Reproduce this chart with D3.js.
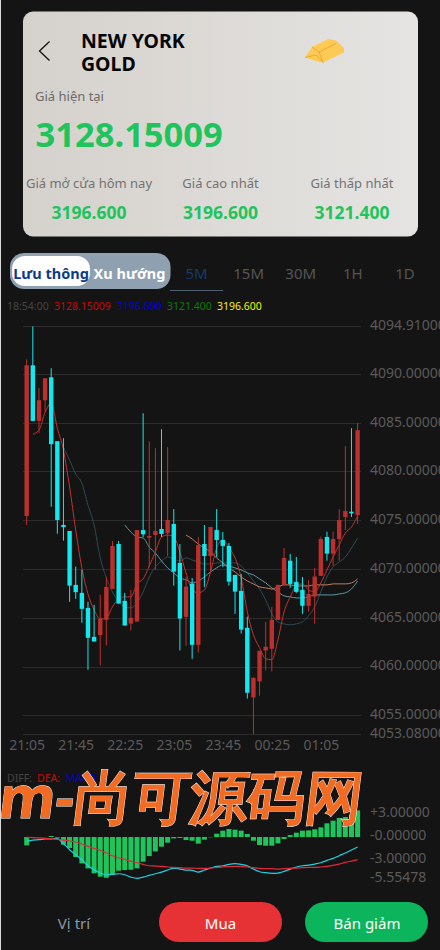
<!DOCTYPE html>
<html>
<head>
<meta charset="utf-8">
<script src="https://cdn.jsdelivr.net/npm/d3@7"></script>
<style>
html,body{margin:0;padding:0;background:#141414;overflow:hidden}
svg{display:block}
text{font-family:"Noto Sans",sans-serif}
</style>
</head>
<body>
<svg id="graph" width="440" height="950"></svg>
<script>
// candles, one per 5 minutes starting 21:05
var opens=[4075.43,4090.88,4085.18,4087.30,4089.65,4083.10,4074.51,4073.89,4068.37,4067.55,4066.01,4063.04,4063.22,4064.78,4067.96,4072.56,4066.73,4064.40,4064.61,4073.99,4073.21,4073.48,4074.10,4073.69,4074.61,4070.62,4065.09,4068.50,4062.22,4072.56,4071.33,4073.99,4072.97,4072.36,4069.39,4067.75,4063.97,4056.83,4058.47,4061.64,4061.82,4064.78,4068.37,4070.85,4068.67,4067.85,4066.22,4067.17,4069.29,4073.28,4071.57,4073.07,4075.33,4075.87,4075.53]
var closes=[4090.88,4085.18,4087.30,4089.55,4082.80,4075.02,4074.30,4068.29,4067.62,4065.91,4062.94,4062.56,4064.88,4068.16,4072.36,4066.45,4064.20,4064.99,4073.99,4073.55,4073.38,4073.89,4073.59,4075.02,4069.73,4064.92,4068.19,4062.22,4072.46,4071.33,4074.30,4072.97,4072.36,4068.70,4067.68,4063.79,4057.31,4058.85,4061.61,4062.02,4064.78,4068.37,4071.13,4068.47,4067.65,4066.22,4067.45,4069.22,4073.07,4071.57,4073.07,4075.02,4075.94,4075.70,4084.23]
var highs=[4091.50,4094.87,4088.56,4089.55,4090.58,4083.10,4083.41,4073.89,4070.24,4069.90,4066.63,4066.32,4067.37,4069.18,4072.87,4072.87,4067.55,4067.85,4073.99,4085.97,4083.10,4082.39,4084.33,4082.49,4076.14,4072.56,4069.18,4069.08,4073.28,4074.51,4074.30,4076.14,4073.79,4072.66,4069.39,4069.49,4065.12,4058.85,4061.61,4064.58,4066.11,4068.37,4072.15,4071.54,4071.23,4069.18,4068.88,4070.11,4073.31,4073.82,4073.82,4076.14,4082.59,4084.43,4084.95]
var lows=[4074.51,4085.15,4083.95,4086.10,4076.38,4073.62,4072.90,4066.63,4066.93,4064.48,4059.67,4062.56,4060.10,4062.15,4067.96,4066.45,4064.20,4063.69,4064.61,4073.28,4070.21,4069.90,4073.28,4071.33,4068.29,4061.64,4062.12,4060.79,4061.44,4068.16,4069.70,4071.23,4070.21,4068.29,4065.40,4063.38,4056.70,4053.08,4057.00,4059.59,4059.49,4064.78,4068.37,4068.06,4067.55,4065.40,4065.63,4064.37,4069.29,4070.85,4070.31,4070.85,4073.99,4075.33,4074.61]

var ma5=[null,4083.82,4084.23,4086.07,4086.99,4084.43,4082.18,4078.40,4073.99,4070.11,4067.44,4065.81,4064.88,4064.99,4066.11,4066.93,4067.14,4067.14,4068.47,4068.98,4070.31,4071.74,4073.28,4073.48,4073.28,4071.74,4069.59,4067.85,4067.55,4067.85,4069.70,4072.15,4072.97,4072.15,4071.13,4069.08,4065.60,4063.25,4061.92,4060.79,4060.69,4062.74,4065.60,4067.14,4068.26,4068.47,4067.85,4067.65,4068.57,4069.90,4071.23,4072.46,4073.69,4074.30,4075.43]
var ma10=[null,null,null,null,null,null,null,null,null,null,null,null,null,null,null,null,4074.51,4073.79,4073.28,4073.18,4072.25,4071.64,4070.82,4070.11,4069.59,4069.08,4068.88,4068.57,4068.77,4069.18,4069.70,4070.11,4070.41,4070.31,4070.11,4069.90,4069.59,4069.39,4068.98,4068.57,4068.06,4067.65,4067.24,4067.14,4067.03,4067.03,4067.14,4067.34,4067.34,4067.34,4067.34,4067.44,4067.55,4067.95,4068.77]
var ma20=[null,null,null,null,null,null,4082.49,4081.16,4079.73,4078.81,4076.55,4074.51,4071.13,4069.08,4067.65,4066.63,4066.11,4066.01,4066.52,4067.65,4069.18,4070.21,4070.82,4071.23,4071.03,4070.82,4071.13,4070.92,4070.72,4070.51,4070.51,4070.62,4070.62,4070.62,4070.62,4070.31,4069.59,4068.77,4067.95,4066.83,4065.40,4064.58,4064.37,4064.27,4064.37,4064.58,4065.19,4066.11,4067.65,4069.18,4070.21,4070.72,4071.23,4072.15,4073.18]
var ma30=[null,null,null,null,null,null,null,null,null,null,null,null,null,null,null,null,null,null,null,null,null,null,null,null,null,null,4073.48,4073.07,4072.56,4072.15,4071.74,4071.13,4070.62,4070.11,4069.70,4069.18,4068.77,4068.47,4068.16,4068.06,4067.95,4068.16,4068.37,4068.37,4068.26,4068.26,4068.26,4068.37,4068.37,4068.37,4068.47,4068.47,4068.47,4068.57,4068.98]

var macdHist=[-1.10,-0.09,-0.04,-0.02,0.13,-0.09,-1.02,-1.46,-2.65,-3.49,-4.15,-4.81,-5.25,-5.39,-4.90,-4.46,-4.37,-4.33,-4.15,-3.27,-2.52,-1.90,-1.28,-0.75,-0.18,-0.13,-0.40,-0.49,-0.88,-0.35,-0.04,0.44,0.84,1.06,0.97,0.84,0.40,-0.49,-1.06,-1.15,-1.15,-0.84,-0.26,0.26,0.57,0.84,0.88,1.02,1.28,1.81,2.16,2.52,2.65,2.96,3.53]
var diffLine=[-0.57,-0.40,-0.35,-0.26,-0.24,-0.22,-0.88,-1.68,-2.34,-3.00,-3.80,-4.33,-4.77,-4.99,-4.94,-4.86,-4.99,-5.30,-5.47,-5.30,-5.08,-4.86,-4.64,-4.37,-4.11,-4.24,-4.37,-4.42,-4.64,-4.37,-4.11,-3.89,-3.80,-3.62,-3.53,-3.62,-3.80,-4.24,-4.59,-4.72,-4.81,-4.77,-4.55,-4.24,-3.97,-3.80,-3.71,-3.58,-3.40,-3.09,-2.83,-2.47,-2.12,-1.72,-1.32]
var deaLine=[-0.04,-0.09,-0.13,-0.18,-0.22,-0.31,-0.40,-0.53,-0.66,-0.93,-1.24,-1.50,-1.77,-2.12,-2.47,-2.74,-2.96,-3.18,-3.40,-3.62,-3.80,-3.84,-3.89,-3.97,-4.02,-4.06,-4.11,-4.11,-4.15,-4.15,-4.11,-4.02,-3.97,-3.93,-3.89,-3.89,-3.97,-4.06,-4.15,-4.19,-4.19,-4.24,-4.19,-4.15,-4.11,-4.06,-4.02,-4.02,-3.97,-3.89,-3.75,-3.58,-3.36,-3.18,-3.00]

var priceTicks=[4094.91,4090,4085,4080,4075,4070,4065,4060,4055,4053.08]
var macdTicks=[3,0,-3,-5.55478]
var macdTickLabels=["+3.00000","-0.00000","-3.00000","-5.55478"]
var timeIndex=[0,8,16,24,32,40,48]
var timeLabels=["21:05","21:45","22:25","23:05","23:45","00:25","01:05"]
var periods=["5M","15M","30M","1H","1D"]
var statLabels=["Giá mở cửa hôm nay","Giá cao nhất","Giá thấp nhất"]
var statValues=["3196.600","3196.600","3121.400"]
var infoRow=[["18:54:00","#444444"],["3128.15009","#c40c0c"],["3196.600","#0000d8"],["3121.400","#0a7a0a"],["3196.600","#f5f500"]]

var RED="#bb302c", CYAN="#10e9ef", GREEN="#1fc45c"
var svg=d3.select("#graph")
var defs=svg.append("defs")
var grad=defs.append("linearGradient").attr("id","cardbg")
grad.append("stop").attr("offset","0%").attr("stop-color","#d5d1cc")
grad.append("stop").attr("offset","100%").attr("stop-color","#e5e4e2")

svg.append("rect").attr("x",0).attr("y",0).attr("width",1).attr("height",950).attr("fill","#d8d8d8")

// header card
var label=function(g,txt,x,y,size,color,anchor,weight){
  return g.append("text").text(txt).attr("x",x).attr("y",y)
    .attr("font-size",size).attr("fill",color)
    .attr("text-anchor",anchor||"start").attr("font-weight",weight||400)
    .attr("dominant-baseline","central")
}
var card=svg.append("g")
card.append("rect").attr("x",23).attr("y",11.5).attr("width",395).attr("height",225).attr("rx",10).attr("fill","url(#cardbg)")
card.append("path").attr("d","M49.5 41.5 L39.5 51 L49.5 60.5").attr("fill","none").attr("stroke","#111").attr("stroke-width",1.3)
label(card,"NEW YORK",81,40.5,19.5,"#050505","start",700)
label(card,"GOLD",81,63.5,19.5,"#050505","start",700)

// gold bars icon
var gold=card.append("g")
gold.append("path").attr("d","M305 57.5 L312 47 L328 39 L336 40.5 L344 48 L344 52.5 L323 62.5 L316 61 L310 59 Z").attr("fill","#fdcb55")
gold.append("path").attr("d","M312 47 L319 52 L336 43.5 M319 52 L323 62.5 M305 57.5 L316 55 L323 62.5").attr("fill","none").attr("stroke","#eda92f").attr("stroke-width",1)

label(card,"Giá hiện tại",35,96,13,"#6b6b6b")
label(card,"3128.15009",35.5,133.5,34.5,GREEN,"start",700)
var statX=d3.scalePoint().domain(statLabels).range([89,352])
statLabels.forEach(function(s,i){
  label(card,s,statX(s),183,13,"#737373","middle")
  label(card,statValues[i],statX(s),212,17.5,GREEN,"middle",700)
})

// tabs
var tabs=svg.append("g")
tabs.append("rect").attr("x",10).attr("y",253).attr("width",160.5).attr("height",36).attr("rx",14).attr("fill","#8fa1b1")
tabs.append("rect").attr("x",12).attr("y",256).attr("width",78).attr("height",30).attr("rx",13).attr("fill","#fff")
label(tabs,"Lưu thông",51,272.5,14.5,"#0b3c8c","middle",700)
label(tabs,"Xu hướng",129.5,272.5,14.5,"#fff","middle",700)
var periodX=d3.scalePoint().domain(periods).range([196.5,405])
periods.forEach(function(p,i){
  label(tabs,p,periodX(p),272.5,15,i==0?"#173a6a":"#555","middle")
})
tabs.append("rect").attr("x",170).attr("y",290).attr("width",53).attr("height",1).attr("fill","#4d5e6e")

var infoX=[7,54,117,167,217]
infoRow.forEach(function(d,i){
  label(svg,d[0],infoX[i],306,10.5,d[1])
})

// scales
var xScale=d3.scaleLinear().domain([0,54]).range([26.7,357.6])
var yScale=d3.scaleLinear().domain([4053.08,4094.91]).range([734,326])
var macdScale=d3.scaleLinear().domain([-5.55478,3]).range([879,814.35])

// price grid and axis
var chart=svg.append("g")
chart.selectAll(".grid").data(priceTicks).enter().append("line")
  .attr("x1",23).attr("x2",361)
  .attr("y1",function(d){return Math.round(yScale(d))+0.5})
  .attr("y2",function(d){return Math.round(yScale(d))+0.5})
  .attr("stroke","#2b2b2b")

var yAxis=d3.axisRight(yScale).tickValues(priceTicks).tickSize(0).tickPadding(0)
  .tickFormat(function(d){return d.toFixed(5)})
var yAxisG=svg.append("g").attr("transform","translate(370,-1)").call(yAxis)
yAxisG.select(".domain").remove()
yAxisG.selectAll("text").attr("fill","#5a5a5a").attr("font-size",14)

var xAxis=d3.axisBottom(xScale).tickValues(timeIndex).tickSize(0).tickPadding(0)
  .tickFormat(function(d,i){return timeLabels[i]})
var xAxisG=svg.append("g").attr("transform","translate(0,740)").call(xAxis)
xAxisG.select(".domain").remove()
xAxisG.selectAll("text").attr("fill","#5a5a5a").attr("font-size",14)

// moving averages
var drawLine=function(g,values,scale,color,width){
  var line=d3.line()
    .defined(function(d){return d!=null})
    .x(function(d,i){return xScale(i)})
    .y(function(d){return scale(d)})
    .curve(d3.curveMonotoneX)
  g.append("path").attr("d",line(values)).attr("fill","none")
    .attr("stroke",color).attr("stroke-width",width)
}
drawLine(chart,ma20,yScale,"#2e4a56",1)
drawLine(chart,ma30,yScale,"#c67a5c",1)
drawLine(chart,ma10,yScale,"#5b96a3",1)
drawLine(chart,ma5,yScale,"#c2322e",1)

// candles
var candleColor=function(i){return closes[i]>=opens[i]&&!(opens[i]==closes[i]&&i==29)?RED:CYAN}
var candles=chart.selectAll(".candle").data(d3.range(opens.length)).enter().append("g")
candles.append("line")
  .attr("x1",function(i){return xScale(i)}).attr("x2",function(i){return xScale(i)})
  .attr("y1",function(i){return yScale(highs[i])}).attr("y2",function(i){return yScale(lows[i])})
  .attr("stroke",candleColor)
candles.append("rect")
  .attr("x",function(i){return xScale(i)-2.2}).attr("width",4.4)
  .attr("y",function(i){return yScale(Math.max(opens[i],closes[i]))})
  .attr("height",function(i){return Math.max(1,Math.abs(yScale(opens[i])-yScale(closes[i])))})
  .attr("fill",candleColor)

// MACD
var macd=svg.append("g")
macd.selectAll(".bar").data(macdHist).enter().append("rect")
  .attr("x",function(d,i){return xScale(i)-2.5}).attr("width",5)
  .attr("y",function(d){return Math.min(macdScale(d),macdScale(0))})
  .attr("height",function(d){return Math.abs(macdScale(d)-macdScale(0))})
  .attr("fill",GREEN)
drawLine(macd,diffLine,macdScale,"#1fd2de",1.2)
drawLine(macd,deaLine,macdScale,"#e22a3e",1.2)

var macdAxis=d3.axisRight(macdScale).tickValues(macdTicks).tickSize(0).tickPadding(0)
  .tickFormat(function(d,i){return macdTickLabels[i]})
var macdAxisG=svg.append("g").attr("transform","translate(370,-2)").call(macdAxis)
macdAxisG.select(".domain").remove()
macdAxisG.selectAll("text").attr("fill","#5a5a5a").attr("font-size",14)

label(svg,"DIFF:",7,778,10.5,"#444")
label(svg,"DEA:",37,778,10.5,"#c40c0c")
label(svg,"MACD:",66,778,10.5,"#0000d8")

// watermark across the MACD panel
svg.append("text").text("m-尚可源码网")
  .attr("transform","translate(-3,818) skewX(-7)")
  .attr("font-family","'Noto Sans CJK SC'")
  .attr("font-size",58).attr("font-weight",700)
  .attr("fill","#f26b22").attr("stroke","#fff").attr("stroke-width",0.8)
  .attr("paint-order","stroke")

// bottom buttons
label(svg,"Vị trí",74,923,15,"#8d9aa6","middle")
svg.append("rect").attr("x",159).attr("y",902).attr("width",123).attr("height",40).attr("rx",20).attr("fill","#e63235")
label(svg,"Mua",220.5,923,15,"#fff","middle")
svg.append("rect").attr("x",305).attr("y",902).attr("width",123).attr("height",40).attr("rx",20).attr("fill","#0cb45c")
label(svg,"Bán giảm",367,923,15,"#fff","middle")
</script>
</body>
</html>
